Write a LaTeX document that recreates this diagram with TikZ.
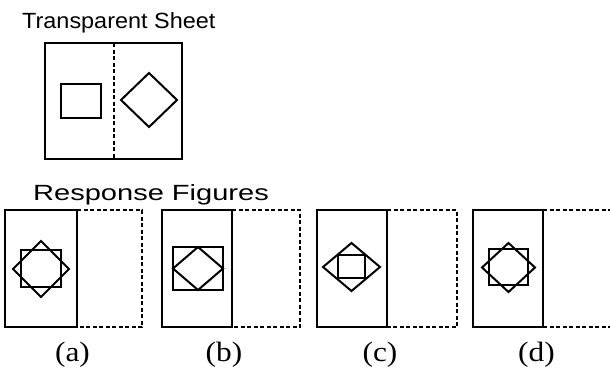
\documentclass[tikz,border=0pt]{standalone}
\usepackage{graphicx}
\usepackage{fontspec}
\setmainfont{Liberation Serif}
\setsansfont{Liberation Sans}
\usepackage{tikz}

\begin{document}
\begin{tikzpicture}[x=1pt,y=-1pt,
  sheet/.style={line width=2.2pt},
  fold/.style={line width=2pt,dash pattern=on 4pt off 2.5pt},
  figline/.style={line width=2pt,line join=miter},
  heading/.style={font=\sffamily\fontsize{22}{26}\selectfont,anchor=base west,inner sep=0pt},
  choice/.style={font=\fontsize{28}{32}\selectfont,anchor=base,inner sep=0pt}]
\useasboundingbox (0,0) rectangle (610,370);
\node[heading] (title) at (22,28) {\scalebox{1.065}[1]{Transparent Sheet}};
\draw[sheet] (45,43) rectangle (182,159);
\draw[fold] (114,43) -- (114,159);
\draw[figline] (61,84) rectangle (101,118);
\draw[figline] (121,100) -- (149,73) -- (177,100) -- (149,127) -- cycle;
\node[heading] (resp) at (33,200) {\scalebox{1.32}[1]{Response Figures}};
\draw[sheet] (5,210) rectangle (77,327);
\draw[fold] (77,210) -- (142,210) -- (142,327) -- (77,327);
\draw[figline] (21,250) rectangle (61,287);
\draw[figline] (13,269) -- (41,241) -- (69,269) -- (41,297) -- cycle;
\node[choice] (la) at (72.5,361) {\scalebox{1.12}[1]{(a)}};
\draw[sheet] (162,210) rectangle (232,327);
\draw[fold] (232,210) -- (300,210) -- (300,327) -- (232,327);
\draw[figline] (173,247) rectangle (223,290);
\draw[figline] (173,268.5) -- (198,247) -- (223,268.5) -- (198,290) -- cycle;
\node[choice] (lb) at (224,361) {\scalebox{1.12}[1]{(b)}};
\draw[sheet] (317,210) rectangle (387,327);
\draw[fold] (387,210) -- (457,210) -- (457,327) -- (387,327);
\draw[figline] (338,255) rectangle (365,278);
\draw[figline] (323,267) -- (351.5,243) -- (380,267) -- (351.5,291) -- cycle;
\node[choice] (lc) at (380,361) {\scalebox{1.12}[1]{(c)}};
\draw[sheet] (473,210) rectangle (543,327);
\draw[fold] (543,210) -- (610,210);
\draw[fold] (543,327) -- (610,327);
\draw[figline] (489,249) rectangle (528,285);
\draw[figline] (482,267.5) -- (508.5,243) -- (535,267.5) -- (508.5,292) -- cycle;
\node[choice] (ld) at (536.5,361) {\scalebox{1.12}[1]{(d)}};
\end{tikzpicture}
\end{document}
